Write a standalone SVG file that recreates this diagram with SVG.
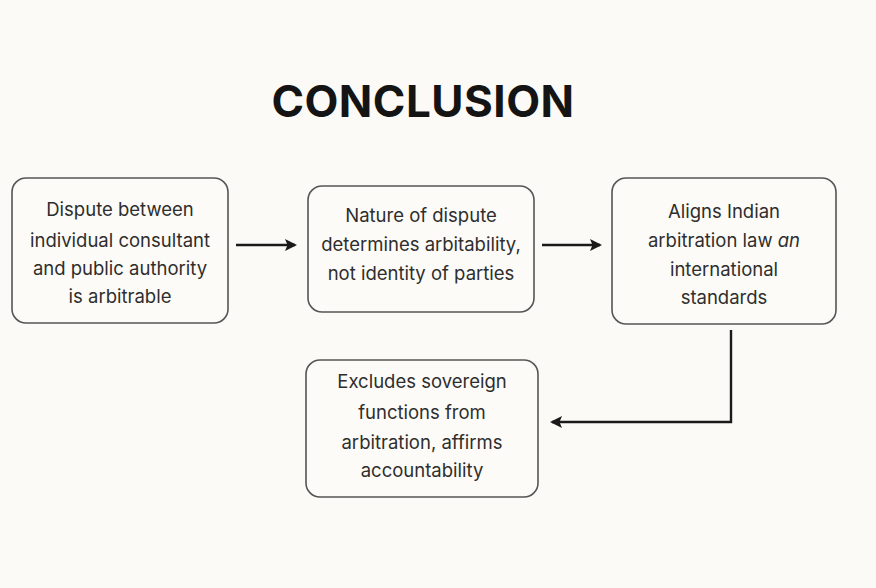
<svg xmlns="http://www.w3.org/2000/svg" width="876" height="588" viewBox="0 0 876 588">
<style>
.box{fill:#fdfbf7;stroke:#555;stroke-width:1.6}
.t{font-family:Inter,"Noto Sans","Liberation Sans",sans-serif;font-size:18.5px;fill:#2e2e2e;text-anchor:middle}
.c{fill:none;stroke:#1a1a1a;stroke-width:2.4}
</style>
<defs>
<marker id="ah" markerWidth="14" markerHeight="14" refX="10" refY="6" orient="auto" markerUnits="userSpaceOnUse">
<path d="M0,0 L12,6 L0,12 L2.5,6 Z" fill="#1a1a1a"/>
</marker>
</defs>
<rect width="876" height="588" fill="#fcfaf6"/>
<text x="423" y="117" font-family="Inter,'Liberation Sans',sans-serif" font-weight="700" font-size="44" fill="#141414" text-anchor="middle" letter-spacing="0.5">CONCLUSION</text>
<g id="n1">
<rect class="box" x="12" y="178" width="216" height="145" rx="14"/>
<text class="t" x="120" y="216">Dispute between</text>
<text class="t" x="120" y="247">individual consultant</text>
<text class="t" x="120" y="275">and public authority</text>
<text class="t" x="120" y="303">is arbitrable</text>
</g>
<g id="n2">
<rect class="box" x="308" y="186" width="226" height="126" rx="14"/>
<text class="t" x="421" y="222">Nature of dispute</text>
<text class="t" x="421" y="251">determines arbitability,</text>
<text class="t" x="421" y="280">not identity of parties</text>
</g>
<g id="n3">
<rect class="box" x="612" y="178" width="224" height="146" rx="14"/>
<text class="t" x="724" y="218">Aligns Indian</text>
<text class="t" x="724" y="247">arbitration law <tspan font-style="italic">an</tspan></text>
<text class="t" x="724" y="276">international</text>
<text class="t" x="724" y="304">standards</text>
</g>
<g id="n4">
<rect class="box" x="306" y="360" width="232" height="137" rx="14"/>
<text class="t" x="422" y="388">Excludes sovereign</text>
<text class="t" x="422" y="419">functions from</text>
<text class="t" x="422" y="449">arbitration, affirms</text>
<text class="t" x="422" y="477">accountability</text>
</g>
<g id="connectors">
<line class="c" x1="236" y1="245" x2="295" y2="245" marker-end="url(#ah)"/>
<line class="c" x1="542" y1="245" x2="600" y2="245" marker-end="url(#ah)"/>
<polyline class="c" points="731,330 731,422 552,422" marker-end="url(#ah)"/>
</g>
</svg>
